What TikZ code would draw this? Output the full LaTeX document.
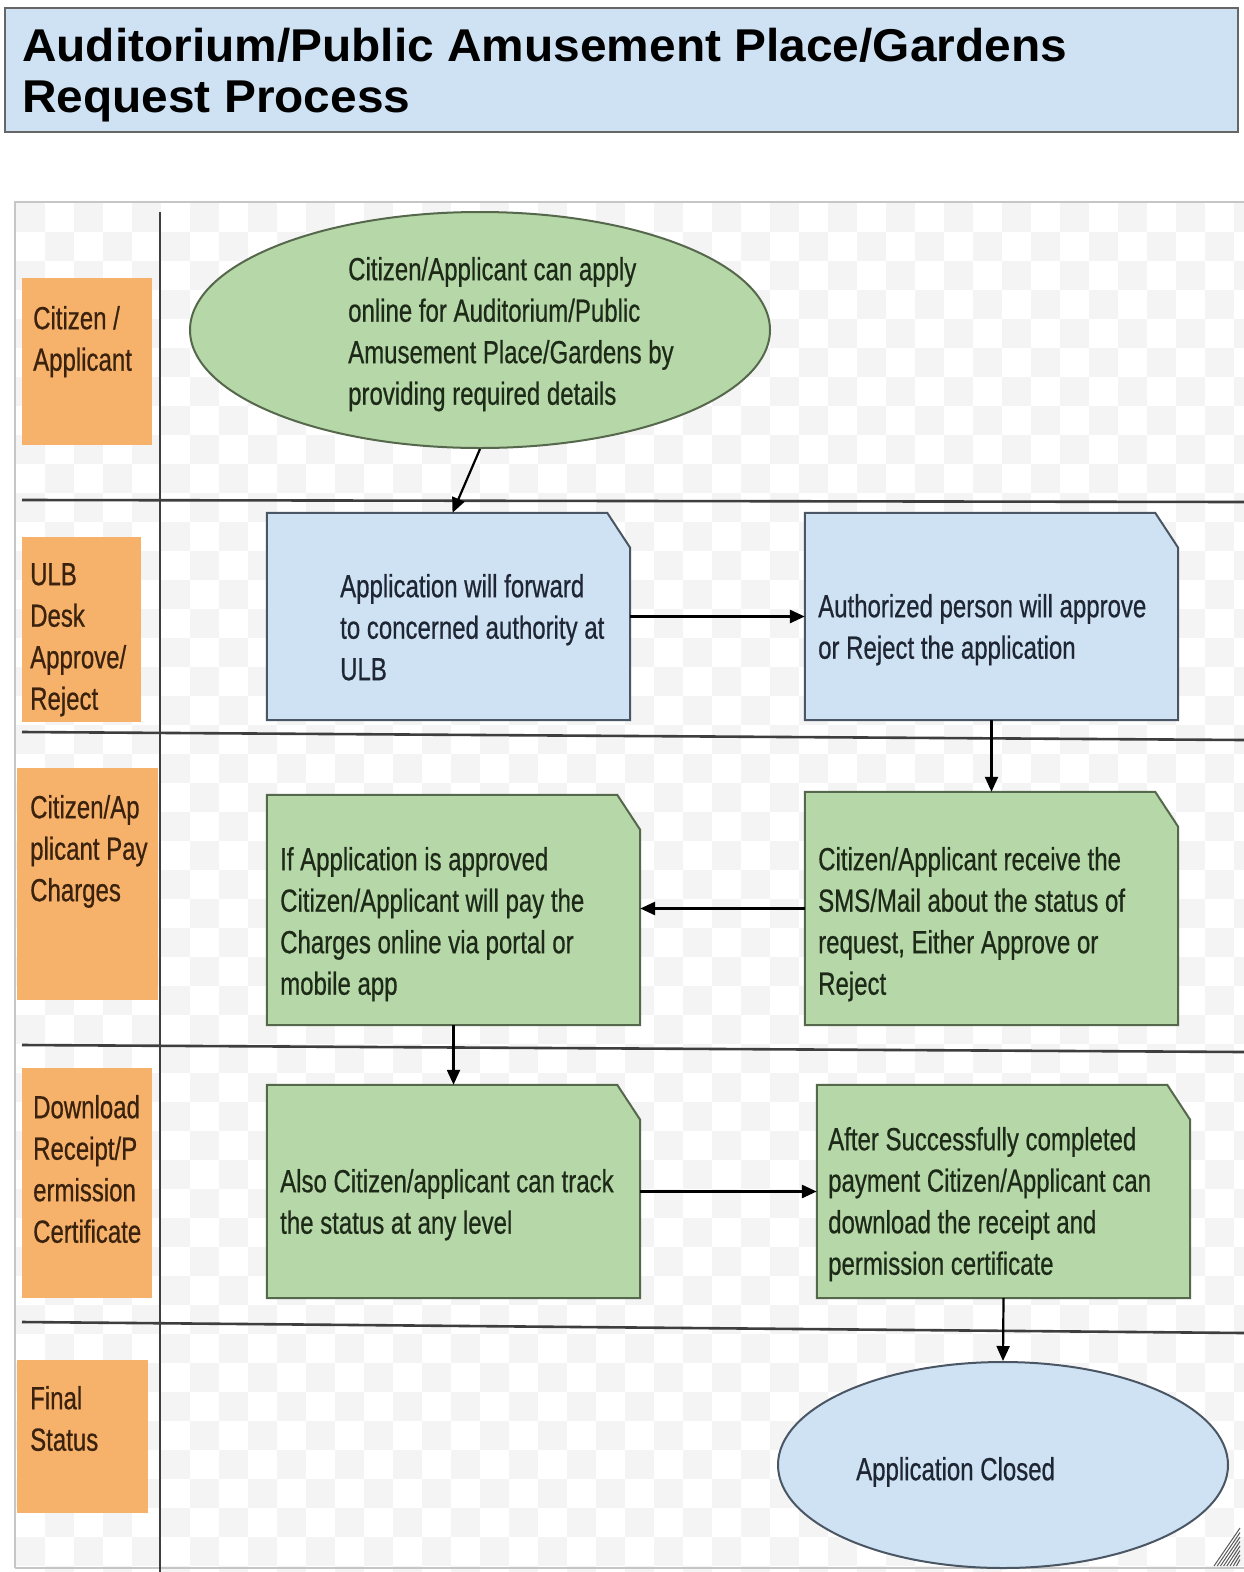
\documentclass[tikz,border=0pt]{standalone}
\usepackage{fontspec}
\setmainfont{Liberation Sans}
\newfontfamily\narrowfont[FakeStretch=0.75,FakeBold=0.6]{Liberation Sans}
\newfontfamily\titlefont[FakeStretch=1.04]{Liberation Sans}
\usetikzlibrary{shapes.geometric,arrows.meta}
\definecolor{titlefill}{HTML}{CFE2F3}
\definecolor{bluefill}{HTML}{CFE2F3}
\definecolor{greenfill}{HTML}{B6D7A8}
\definecolor{orangefill}{HTML}{F6B26B}
\definecolor{blueedge}{HTML}{4A5663}
\definecolor{greenedge}{HTML}{56684C}
\definecolor{lanecol}{HTML}{3E3E3E}
\definecolor{gtext}{HTML}{1E2A18}
\definecolor{btext}{HTML}{1F2633}
\definecolor{otext}{HTML}{3A220E}
\definecolor{checker}{HTML}{F4F4F4}
\newcommand\cbox[7]{%
  \node[inner sep=0pt, minimum width={#4-#2}, minimum height={#5-#3}] (#1) at ({(#2+#4)/2},{(#3+#5)/2}) {};
  \filldraw[fill=#6, draw=#7, line width=2pt, line join=miter]
    (#1.north west) -- ([xshift=-23pt]#1.north east) -- ([yshift=-35pt]#1.north east)
    -- (#1.south east) -- (#1.south west) -- cycle;}
\newcommand\fs{\rule{0pt}{27pt}}
\begin{document}
\begin{tikzpicture}[x=1pt,y=-1pt,
  txt/.style={anchor=north west, inner sep=0pt, align=left,
    font=\narrowfont\fontsize{32}{41.5}\selectfont},
  lanelbl/.style={fill=orangefill, draw=none},
  arr/.style={draw=black, line width=2.8pt, -{Triangle[length=15pt,width=13pt]}},
  laneline/.style={draw=lanecol, line width=2.6pt},
  oval/.style={ellipse, inner sep=0pt, line width=2pt}]
\useasboundingbox (0,0) rectangle (1244,1572);
\fill[white] (0,0) rectangle (1244,1572);
% checker background
\begin{scope}
\clip (16,203) rectangle (1244,1572);
\foreach \i in {0,...,42}{
  \foreach \j in {0,...,47}{
    \pgfmathtruncatemacro\chk{mod(\i+\j,2)}
    \ifnum\chk=0
      \fill[checker] ({16+29*\i},{203+29*\j}) rectangle ++(29,29);
    \fi
  }}
\end{scope}
% title
\node[draw=gray!80!black, line width=2.5pt, fill=titlefill, minimum width=1233, minimum height=124, inner sep=0pt] (title) at (621.5,70) {};
\node[anchor=north west, inner sep=0pt, align=left, font=\titlefont\bfseries\fontsize{46}{51}\selectfont] (titletext) at (22,26) {\rule{0pt}{35pt}Auditorium/Public Amusement Place/Gardens\\Request Process};
% frame
\draw[gray!45, line width=1.5pt] (15,1568) -- (15,202) -- (1244,202);
\draw[gray!45, line width=1.5pt] (15,1568) -- (1244,1568);
% lane lines
\draw[laneline] (22,500) -- (1244,502);
\draw[laneline] (22,732) -- (1244,740);
\draw[laneline] (22,1045) -- (1244,1052);
\draw[laneline] (22,1322) -- (1244,1333);
\draw[draw=lanecol, line width=2pt] (160,212) -- (160,1572);
% lane labels
\fill[lanelbl] (22,278) rectangle (152,445);
\fill[lanelbl] (22,537) rectangle (141,722);
\fill[lanelbl] (17,768) rectangle (158,1000);
\fill[lanelbl] (22,1068) rectangle (152,1298);
\fill[lanelbl] (17,1360) rectangle (148,1513);
\node[txt, text=otext] (l1) at (33,302) {\fs Citizen /\\Applicant};
\node[txt, text=otext] (l2) at (30,558) {\fs ULB\\Desk\\Approve/\\Reject};
\node[txt, text=otext] (l3) at (30,791) {\fs Citizen/Ap\\plicant Pay\\Charges};
\node[txt, text=otext] (l4) at (33,1091) {\fs Download\\Receipt/P\\ermission\\Certificate};
\node[txt, text=otext] (l5) at (30,1382) {\fs Final\\Status};
% shapes
\node[oval, fill=greenfill, draw=greenedge, minimum width=580, minimum height=236] (e1) at (480,330) {};
\node[txt, text=gtext] (t1) at (348,253) {\fs Citizen/Applicant can apply\\online for Auditorium/Public\\Amusement Place/Gardens by\\providing required details};
\cbox{b1}{267}{513}{630}{720}{bluefill}{blueedge}
\node[txt, text=btext] (t2) at (340,570) {\fs Application will forward\\to concerned authority at\\ULB};
\cbox{b2}{805}{513}{1178}{720}{bluefill}{blueedge}
\node[txt, text=btext] (t3) at (818,590) {\fs Authorized person will approve\\or Reject the application};
\cbox{b3}{267}{795}{640}{1025}{greenfill}{greenedge}
\node[txt, text=gtext] (t4) at (280,843) {\fs If Application is approved\\Citizen/Applicant will pay the\\Charges online via portal or\\mobile app};
\cbox{b4}{805}{792}{1178}{1025}{greenfill}{greenedge}
\node[txt, text=gtext] (t5) at (818,843) {\fs Citizen/Applicant receive the\\SMS/Mail about the status of\\request, Either Approve or\\Reject};
\cbox{b5}{267}{1085}{640}{1298}{greenfill}{greenedge}
\node[txt, text=gtext] (t6) at (280,1165) {\fs Also Citizen/applicant can track\\the status at any level};
\cbox{b6}{817}{1085}{1190}{1298}{greenfill}{greenedge}
\node[txt, text=gtext] (t7) at (828,1123) {\fs After Successfully completed\\payment Citizen/Applicant can\\download the receipt and\\permission certificate};
\node[oval, fill=bluefill, draw=blueedge, minimum width=450, minimum height=206] (e2) at (1003,1465) {};
\node[txt, text=btext] (t8) at (856,1453) {\fs Application Closed};
% connectors
\draw[arr, line width=2.2pt] (e1.south) -- ([xshift=4pt]b1.north);
\draw[arr] (b1.east) -- (b2.west);
\draw[arr, line width=2.2pt] (b2.south) -- (b4.north);
\draw[arr] (b4.west) -- (b4.west -| b3.east);
\draw[arr, line width=2.2pt] (b3.south) -- (b5.north);
\draw[arr] (b5.east) -- (b6.west);
\draw[arr, line width=2.2pt] (b6.south) -- (e2.north);
% resize grip
\foreach \k in {0,...,7}{
  \draw[gray!70!black, line width=1pt] ({1214+3.2*\k},1566) -- ({1240},{1528+4.5*\k});
}
\end{tikzpicture}
\end{document}
